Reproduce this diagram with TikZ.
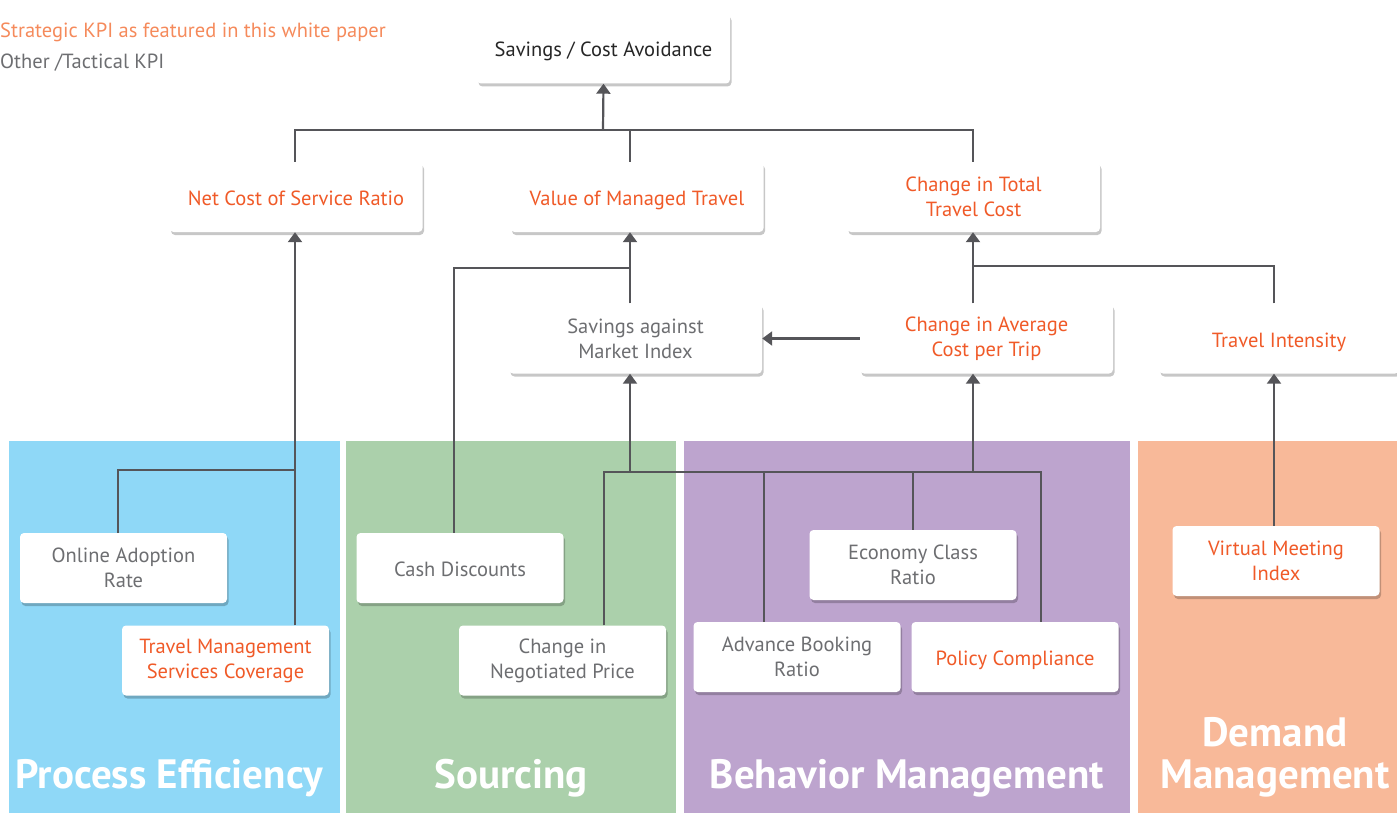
\documentclass[tikz,border=0pt]{standalone}
\usepackage{fontspec}
\setmainfont{PT Sans}
\usetikzlibrary{arrows.meta,shadows}
\definecolor{pblue}{HTML}{8FD8F7}
\definecolor{pgreen}{HTML}{ABD0AB}
\definecolor{ppurple}{HTML}{BDA4CE}
\definecolor{porange}{HTML}{F8B999}
\definecolor{stratC}{HTML}{F05A28}
\definecolor{legC}{HTML}{F58A5B}
\definecolor{tactC}{HTML}{6D6E71}
\definecolor{lineC}{HTML}{555559}
\tikzset{
  kpi/.style={rectangle, fill=white, rounded corners=4pt, minimum height=70pt,
    align=center, inner sep=2pt, font=\fontsize{20.5}{25}\selectfont,
    drop shadow={shadow xshift=1.5pt, shadow yshift=-3pt, opacity=0.22, fill=black}},
  single/.style={text height=22pt, text depth=5pt},
  wide/.style={minimum width=253pt},
  narrow/.style={minimum width=207pt},
  strat/.style={text=stratC},
  tact/.style={text=tactC},
  link/.style={draw=lineC, line width=2.2pt},
  arr/.style={link, -{Triangle[width=14pt,length=10pt]}},
  ptitle/.style={text=white, align=center, font=\fontsize{41}{42}\selectfont\bfseries},
  legend/.style={anchor=west, inner sep=0pt, font=\fontsize{20.5}{22}\selectfont},
}
\begin{document}
\begin{tikzpicture}[x=1pt,y=-1pt]
\useasboundingbox (0,0) rectangle (1397,813);
% panels
\fill[pblue] (9,441) rectangle (340,813);
\fill[pgreen] (346,441) rectangle (676,813);
\fill[ppurple] (684,441) rectangle (1130,813);
\fill[porange] (1138,441) rectangle (1397,813);
\node[ptitle] (tPE) at (169,778) {Process Efficiency};
\node[ptitle] (tSO) at (511,778) {Sourcing};
\node[ptitle] (tBM) at (907,778) {Behavior Management};
\node[ptitle] (tDM) at (1275,757) {Demand\\Management};
% legend
\node[legend, text=legC] (leg1) at (0,32) {Strategic KPI as featured in this white paper};
\node[legend, text=tactC] (leg2) at (0,63) {Other /Tactical KPI};
% boxes
\node[kpi, wide, single, text=black!85] (top) at (603.5,48.5) {Savings / Cost Avoidance};
\node[kpi, wide, single, strat] (ncs) at (296,197) {Net Cost of Service Ratio};
\node[kpi, wide, single, strat] (vmt) at (637,197) {Value of Managed Travel};
\node[kpi, wide, strat] (ctt) at (973.5,197) {Change in Total\\Travel Cost};
\node[kpi, wide, tact] (sam) at (635.5,338.5) {Savings against\\Market Index};
\node[kpi, wide, strat] (cac) at (986.5,338.5) {Change in Average\\Cost per Trip};
\node[kpi, single, minimum width=240pt, strat] (ti) at (1279,338.5) {Travel Intensity};
\node[kpi, narrow, tact] (oar) at (123.5,568) {Online Adoption\\Rate};
\node[kpi, narrow, strat] (tms) at (225.5,660.5) {Travel Management\\Services Coverage};
\node[kpi, narrow, single, tact] (cd) at (460,568) {Cash Discounts};
\node[kpi, narrow, tact] (cnp) at (562.5,660.5) {Change in\\Negotiated Price};
\node[kpi, narrow, tact] (ecr) at (913,565) {Economy Class\\Ratio};
\node[kpi, narrow, tact] (abr) at (797,657) {Advance Booking\\Ratio};
\node[kpi, narrow, single, strat] (pc) at (1015,657) {Policy Compliance};
\node[kpi, narrow, strat] (vmi) at (1276,561) {Virtual Meeting\\Index};
% helper coordinates
\coordinate (j0) at (603,130);
\coordinate (x295) at (295,0);
\coordinate (x630) at (630,0);
\coordinate (x973) at (973,0);
\coordinate (x1274) at (1274,0);
\coordinate (x454) at (454,0);
\coordinate (x118) at (118,0);
\coordinate (x604) at (604,0);
\coordinate (x764) at (764,0);
\coordinate (x913) at (913,0);
\coordinate (x1041) at (1041,0);
\coordinate (y268) at (0,268);
\coordinate (y266) at (0,266);
\coordinate (y470) at (0,470);
\coordinate (y472) at (0,472);
% connectors
\draw[arr] (j0) -- (top.south);
\draw[link] (ncs.north -| x295) |- (j0 -| x973) -- (ctt.north -| x973);
\draw[link] (vmt.north -| x630) -- (j0 -| x630);
\draw[arr] (tms.north -| x295) -- (ncs.south -| x295);
\draw[link] (oar.north -| x118) |- (y470 -| x295);
\draw[arr] (sam.north -| x630) -- (vmt.south -| x630);
\draw[link] (cd.north -| x454) |- (y268 -| x630);
\draw[arr] (cac.north -| x973) -- (ctt.south -| x973);
\draw[link] (ti.north -| x1274) |- (y266 -| x973);
\draw[arr] (cac.west) -- (sam.east);
\draw[arr] (y472 -| x630) -- (sam.south -| x630);
\draw[arr] (y472 -| x973) -- (cac.south -| x973);
\draw[link] (cnp.north -| x604) |- (y472 -| x1041) -- (pc.north -| x1041);
\draw[link] (abr.north -| x764) -- (y472 -| x764);
\draw[link] (ecr.north -| x913) -- (y472 -| x913);
\draw[arr] (vmi.north -| x1274) -- (ti.south -| x1274);
\end{tikzpicture}
\end{document}
